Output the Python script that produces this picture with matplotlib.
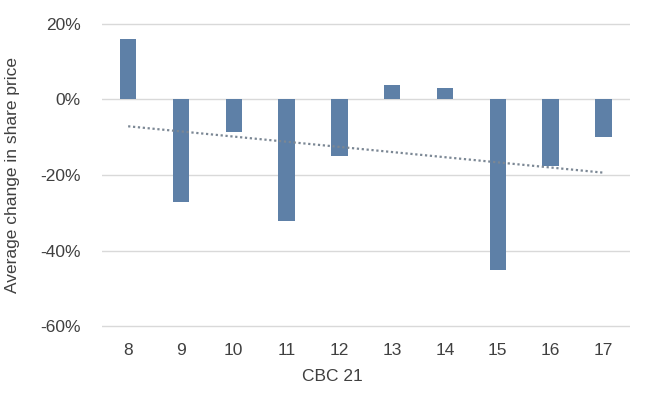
import numpy as np
import matplotlib
matplotlib.use('Agg')
import matplotlib.pyplot as plt
from matplotlib.ticker import FuncFormatter

categories = ['8', '9', '10', '11', '12', '13', '14', '15', '16', '17']
share_change = [16, -27, -8.7, -32, -15, 3.9, 3.1, -45, -17.5, -10]  # percent
y_ticks = [-60, -40, -20, 0, 20]

plt.rcParams['font.family'] = ['Liberation Sans', 'DejaVu Sans']

fig = plt.figure(figsize=(6.48, 3.98), dpi=100)
ax = fig.add_axes([0.157, 0.176, 0.815, 0.768])

x = np.arange(len(categories))
ax.bar(x, share_change, width=0.31, color='#5e80a7', zorder=3)

# linear trend line, as in the original spreadsheet chart
slope, intercept = np.polyfit(x, share_change, 1)
ax.plot(x, slope * x + intercept, linestyle=(0, (1, 1.2)), color='#7b8794',
        linewidth=1.6, zorder=4)

ax.set_xlim(-0.5, len(categories) - 0.5)
ax.set_ylim(-60.4, 20.4)
ax.set_yticks(y_ticks)
ax.yaxis.set_major_formatter(FuncFormatter(lambda v, p: f'{v:.0f}%'))
ax.set_xticks(x)
ax.set_xticklabels(categories)
ax.grid(axis='y', color='#d9d9d9', linewidth=1, zorder=0)
for s in ax.spines.values():
    s.set_visible(False)
ax.tick_params(length=0, labelsize=12.5, colors='#404040', pad=11)
ax.tick_params(axis='y', pad=15)

ax.set_xlabel('CBC 21', fontsize=12.5, color='#404040')
ax.xaxis.set_label_coords(0.4375, -0.135)
ax.set_ylabel('Average change in share price', fontsize=12.5, color='#404040')
ax.yaxis.set_label_coords(-0.155, 0.5)

fig.savefig('out.png', dpi=100, facecolor='white')
